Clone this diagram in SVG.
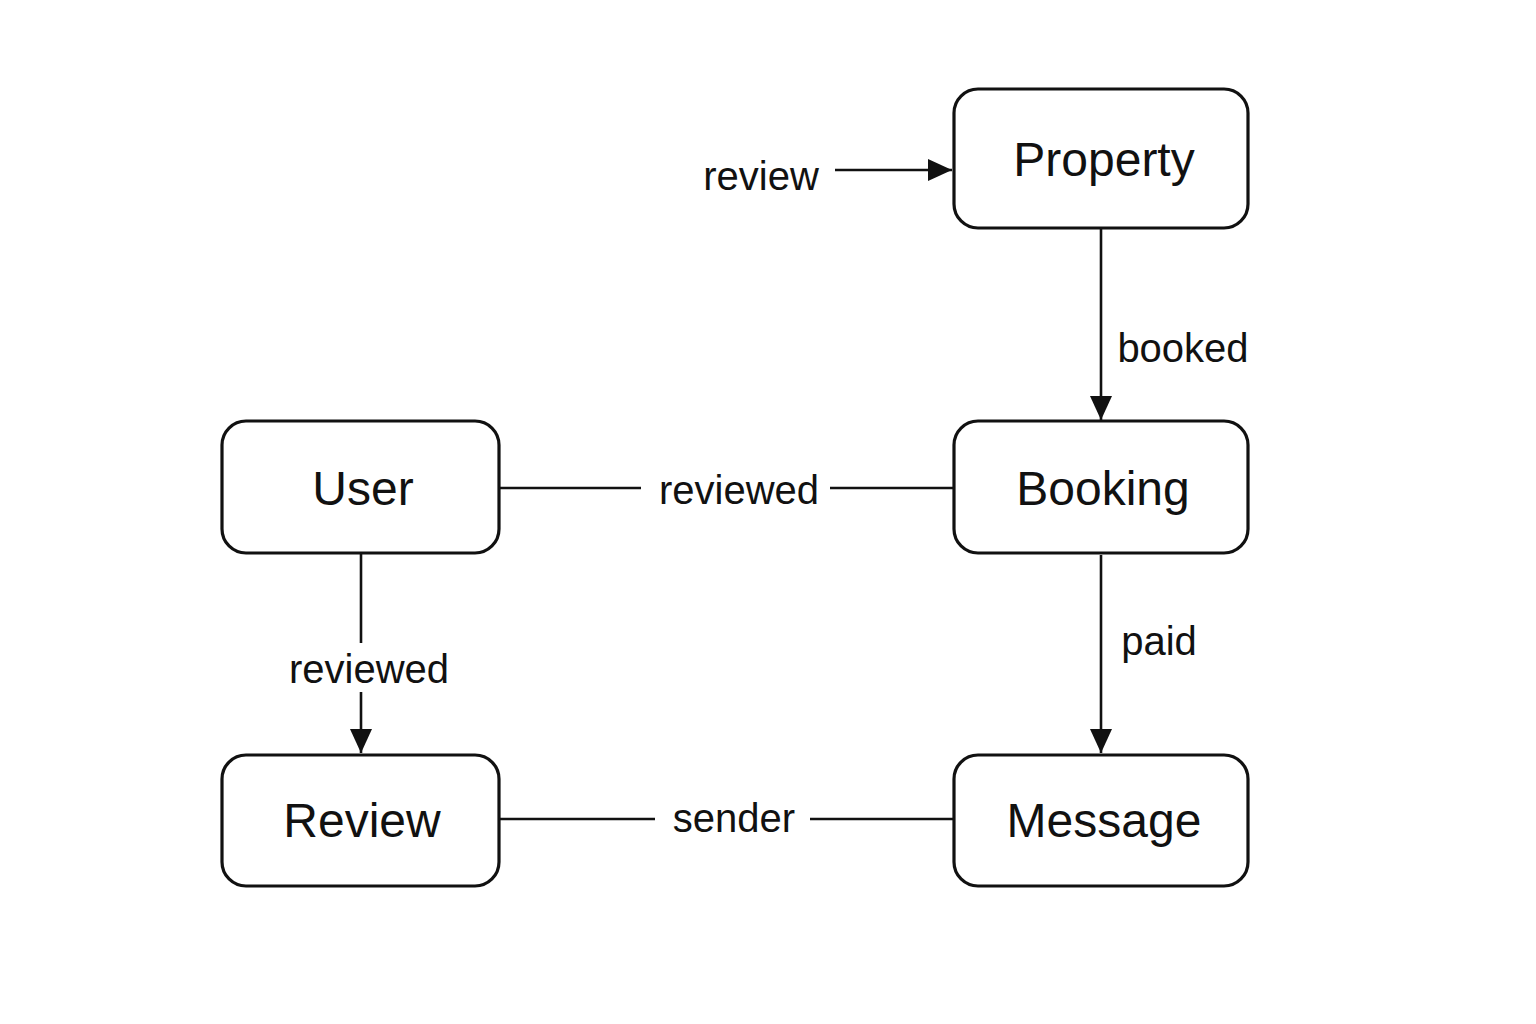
<svg xmlns="http://www.w3.org/2000/svg" width="1536" height="1024" viewBox="0 0 1536 1024">
<style>
.box{fill:#fff;stroke:#111;stroke-width:3.2}
.nt{font-family:"Liberation Sans",Arial,sans-serif;font-size:48px;fill:#111;text-anchor:middle}
.lt{font-family:"Liberation Sans",Arial,sans-serif;font-size:40px;fill:#111;text-anchor:middle}
.ln{stroke:#111;stroke-width:2.6;fill:none}
</style>
<defs>
<marker id="ah" markerUnits="userSpaceOnUse" markerWidth="26" markerHeight="26" viewBox="0 0 26 26" refX="24" refY="13" orient="auto">
<path d="M0,2 L24,13 L0,24 Z" fill="#111"/>
</marker>
</defs>
<rect width="1536" height="1024" fill="#fff"/>
<g id="connectors">
<line class="ln" x1="835" y1="170" x2="952" y2="170" marker-end="url(#ah)"/>
<line class="ln" x1="1101" y1="229" x2="1101" y2="420" marker-end="url(#ah)"/>
<line class="ln" x1="1101" y1="555" x2="1101" y2="753" marker-end="url(#ah)"/>
<line class="ln" x1="361" y1="553" x2="361" y2="643"/>
<line class="ln" x1="361" y1="692" x2="361" y2="753" marker-end="url(#ah)"/>
<line class="ln" x1="499" y1="488" x2="641" y2="488"/>
<line class="ln" x1="830" y1="488" x2="954" y2="488"/>
<line class="ln" x1="499" y1="819" x2="655" y2="819"/>
<line class="ln" x1="810" y1="819" x2="954" y2="819"/>
<text class="lt" x="761" y="190">review</text>
<text class="lt" x="1183" y="362">booked</text>
<text class="lt" x="739" y="504">reviewed</text>
<text class="lt" x="369" y="683">reviewed</text>
<text class="lt" x="1159" y="655">paid</text>
<text class="lt" x="734" y="832">sender</text>
</g>
<g id="property"><rect class="box" x="954" y="89" width="294" height="139" rx="24"/><text class="nt" x="1104" y="176">Property</text></g>
<g id="booking"><rect class="box" x="954" y="421" width="294" height="132" rx="24"/><text class="nt" x="1103" y="505">Booking</text></g>
<g id="user"><rect class="box" x="222" y="421" width="277" height="132" rx="24"/><text class="nt" x="363" y="505">User</text></g>
<g id="review"><rect class="box" x="222" y="755" width="277" height="131" rx="24"/><text class="nt" x="362" y="837">Review</text></g>
<g id="message"><rect class="box" x="954" y="755" width="294" height="131" rx="24"/><text class="nt" x="1104" y="837">Message</text></g>
</svg>
